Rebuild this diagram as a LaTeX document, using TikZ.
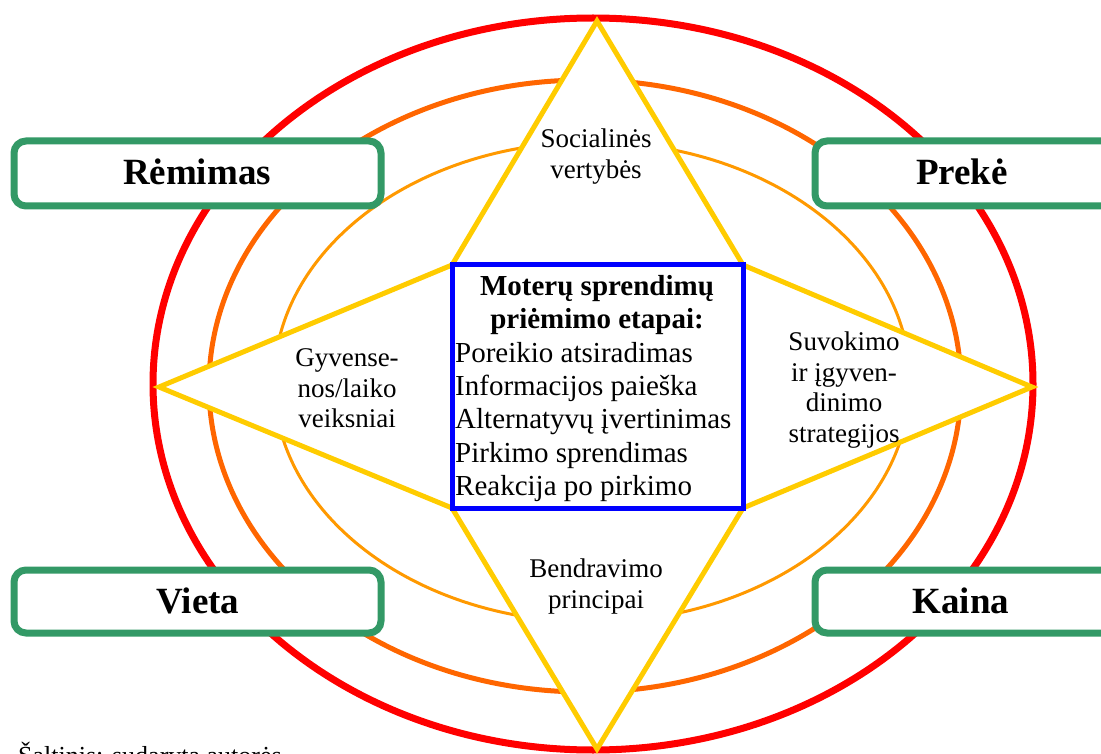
\documentclass[tikz,border=0pt]{standalone}
\usepackage{fontspec}
\setmainfont{Liberation Serif}
\definecolor{ringred}{HTML}{FF0000}
\definecolor{ringorange}{HTML}{FF6600}
\definecolor{ringlight}{HTML}{FF9900}
\definecolor{staryellow}{HTML}{FFCC00}
\definecolor{mixgreen}{HTML}{339966}
\definecolor{stageblue}{HTML}{0000FF}
\tikzset{
  mixbox/.style={draw=mixgreen, line width=7pt, fill=white, rounded corners=12pt},
  mixlabel/.style={font=\fontsize{37}{42}\selectfont\bfseries, inner sep=0pt, anchor=base},
  factor/.style={font=\fontsize{27}{30.5}\selectfont, align=center, inner sep=0pt},
  stagebox/.style={draw=stageblue, line width=5pt, fill=white},
}
\begin{document}
\begin{tikzpicture}[x=1pt, y=-1pt, line join=miter]
\useasboundingbox (0,0) rectangle (1101,754);
\clip (0,0) rectangle (1101,754);

% three rings around the model
\draw[ringred, line width=7pt] (593,384) ellipse [x radius=440, y radius=366];
\draw[ringorange, line width=5pt] (585,386) ellipse [x radius=376, y radius=306];
\draw[ringlight, line width=3pt] (592,382) ellipse [x radius=318, y radius=240];

% corners of the central box and tips of the star
\coordinate (nw) at (452,265);
\coordinate (ne) at (743,265);
\coordinate (se) at (743,508);
\coordinate (sw) at (452,508);
\coordinate (tipN) at (597,21);
\coordinate (tipE) at (1032,387);
\coordinate (tipS) at (597,749);
\coordinate (tipW) at (159,387);

% four-pointed star
\draw[staryellow, line width=5pt, fill=white]
  (tipN) -- (ne) -- (tipE) -- (se) -- (tipS) -- (sw) -- (tipW) -- (nw) -- cycle;

% central box with the decision stages
\draw[stagebox] (nw) rectangle (se);
\node[font=\fontsize{29}{33.3}\selectfont\bfseries, align=center, inner sep=0pt]
  (title) at (597,304.8) {Moterų sprendimų\\priėmimo etapai:};
\node[font=\fontsize{29}{33.3}\selectfont, align=left, inner sep=0pt, anchor=west]
  (stages) at (455,421.8) {Poreikio atsiradimas\\Informacijos paieška\\Alternatyvų įvertinimas\\Pirkimo sprendimas\\Reakcija po pirkimo};

% factors in the star points
\node[factor] (social) at (596,156.6) {Socialinės\\vertybės};
\node[factor] (life) at (347,388.4) {Gyvense-\\nos/laiko\\veiksniai};
\node[factor] (percept) at (844,390.2) {Suvokimo\\ir įgyven-\\dinimo\\strategijos};
\node[factor] (comm) at (596,586.7) {Bendravimo\\principai};

% marketing mix boxes
\draw[mixbox] (14,141) rectangle (381,206);
\node[mixlabel] (promo) at (197,185) {Rėmimas};
\draw[mixbox] (815,141) rectangle (1180,206);
\node[mixlabel] (product) at (962,185) {Prekė};
\draw[mixbox] (14,570) rectangle (381,633);
\node[mixlabel] (place) at (198,613) {Vieta};
\draw[mixbox] (815,570) rectangle (1180,633);
\node[mixlabel] (price) at (961,613) {Kaina};

% source line, running off the lower edge
\node[font=\fontsize{26}{30}\selectfont, inner sep=0pt, anchor=base west] (source) at (18,764) {Šaltinis: sudaryta autorės};
\end{tikzpicture}
\end{document}
